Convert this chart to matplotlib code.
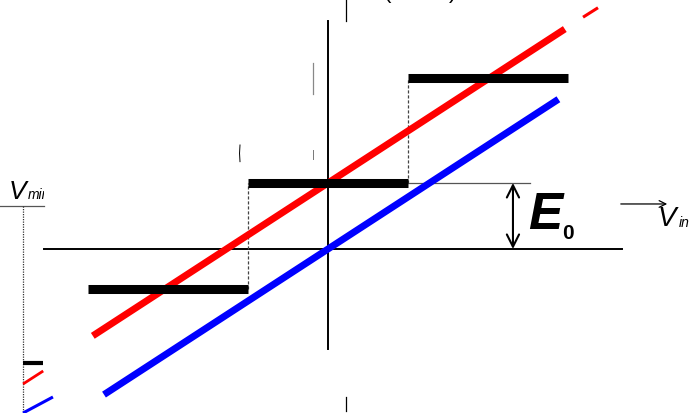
import matplotlib.pyplot as plt
import matplotlib.patches as mpatches

plt.rcParams['font.family'] = ['Liberation Sans', 'DejaVu Sans']

# quantizer steps (Vin in steps, Vout in units of the step height)
step_start = [-1.5, -0.5, 0.5]
step_end = [-0.5, 0.5, 1.5]
step_level = [-0.38, 0.635, 1.64]
E0 = 0.635

# ideal transfer line (blue) and line shifted by E0 (red)
blue_vin = [-1.40, 1.44]
blue_vout = [-1.40, 1.44]
red_vin = [-1.47, 1.48]
red_vout = [-0.835, 2.115]
red_tail_vin = [1.594, 1.6875]
red_tail_vout = [2.229, 2.32]

# small copy cut off at the bottom left
mini_black_vin = [-1.906, -1.78]
mini_black_vout = [-1.096, -1.096]
mini_red_vin = [-1.906, -1.78]
mini_red_vout = [-1.298, -1.173]
mini_blue_vin = [-1.906, -1.719]
mini_blue_vout = [-1.577, -1.423]

fig = plt.figure(figsize=(6.96, 4.14), dpi=100)
ax = fig.add_axes([0, 0, 1, 1])
ax.set_xlim(-2.05, 2.3)
ax.set_ylim(-1.577, 2.404)
ax.axis('off')

# axes
ax.plot([-1.775, 1.8375], [0, 0], color='black', lw=1.4)
ax.plot([0, 0], [-0.96, 2.19], color='black', lw=1.4)

# dashed risers between steps
for i in range(len(step_start) - 1):
    ax.plot([step_end[i], step_end[i]], [step_level[i], step_level[i + 1]],
            color='#444444', lw=0.9, ls=(0, (2.5, 1.5)))

# E0 reference line
ax.plot([step_start[1] + 1, 1.2625], [E0, E0], color='#555555', lw=0.9)

ax.plot(red_vin, red_vout, color='#ff0000', lw=5, solid_capstyle='butt')
ax.plot(red_tail_vin, red_tail_vout, color='#ff0000', lw=2.2, solid_capstyle='butt')
ax.plot(blue_vin, blue_vout, color='#0000ff', lw=5, solid_capstyle='butt')

for s, e, lv in zip(step_start, step_end, step_level):
    ax.plot([s, e], [lv, lv], color='black', lw=6.5, solid_capstyle='butt')

# E0 arrow and label
ax.annotate('', xy=(1.156, 0), xytext=(1.156, E0),
            arrowprops=dict(arrowstyle='<->', lw=1.5, mutation_scale=22,
                            shrinkA=0, shrinkB=0, color='black'))
ax.text(1.25, 0.20, 'E', fontsize=37, fontweight='bold', fontstyle='italic',
        ha='left', va='baseline')
ax.text(1.462, 0.11, '0', fontsize=15, fontweight='bold', ha='left', va='baseline')

# Vin arrow and label
ax.annotate('', xy=(2.12, 0.433), xytext=(1.83, 0.433),
            arrowprops=dict(arrowstyle='->', lw=0.9, mutation_scale=12,
                            shrinkA=0, shrinkB=0, color='black'))
ax.text(2.06, 0.23, 'V', fontsize=20, fontstyle='italic', ha='left', va='baseline')
ax.text(2.19, 0.22, 'in', fontsize=10, fontstyle='italic', ha='left', va='baseline')

# cut-off Vmin label on the left
clip = mpatches.Rectangle((-2.05, 0.4), 0.275, 1.0, transform=ax.transData,
                          visible=False)
ax.add_patch(clip)
ax.text(-1.995, 0.49, 'V', fontsize=19, fontstyle='italic', ha='left', va='baseline')
t = ax.text(-1.878, 0.49, 'min', fontsize=10, fontstyle='italic', ha='left',
            va='baseline', clip_on=True)
t.set_clip_path(clip)
ax.plot([-2.05, -1.775], [0.413, 0.413], color='#555555', lw=0.9)
ax.plot([-1.906, -1.906], [0.413, -1.577], color='#333333', lw=0.9, ls=(0, (1, 1)))

ax.plot(mini_black_vin, mini_black_vout, color='black', lw=3, solid_capstyle='butt')
ax.plot(mini_red_vin, mini_red_vout, color='#ff0000', lw=2, solid_capstyle='butt')
ax.plot(mini_blue_vin, mini_blue_vout, color='#0000ff', lw=2.2, solid_capstyle='butt')

# fragments of cut-off elements
ax.plot([0.1125, 0.1125], [2.19, 2.404], color='black', lw=0.9)
ax.plot([0.1125, 0.1125], [-1.423, -1.56], color='black', lw=0.9)
ax.plot([-0.094, -0.094], [1.79, 1.49], color='#888888', lw=0.9)
ax.text(0.37, 2.48, '(', fontsize=16, ha='center', va='center')
ax.text(0.78, 2.48, ')', fontsize=16, ha='center', va='center')
ax.plot([-0.55, -0.553, -0.55], [1.00, 0.92, 0.84], color='black', lw=0.7)
ax.plot([-0.094, -0.094], [0.95, 0.87], color='#777777', lw=0.7)

fig.savefig('out.png', dpi=100)
